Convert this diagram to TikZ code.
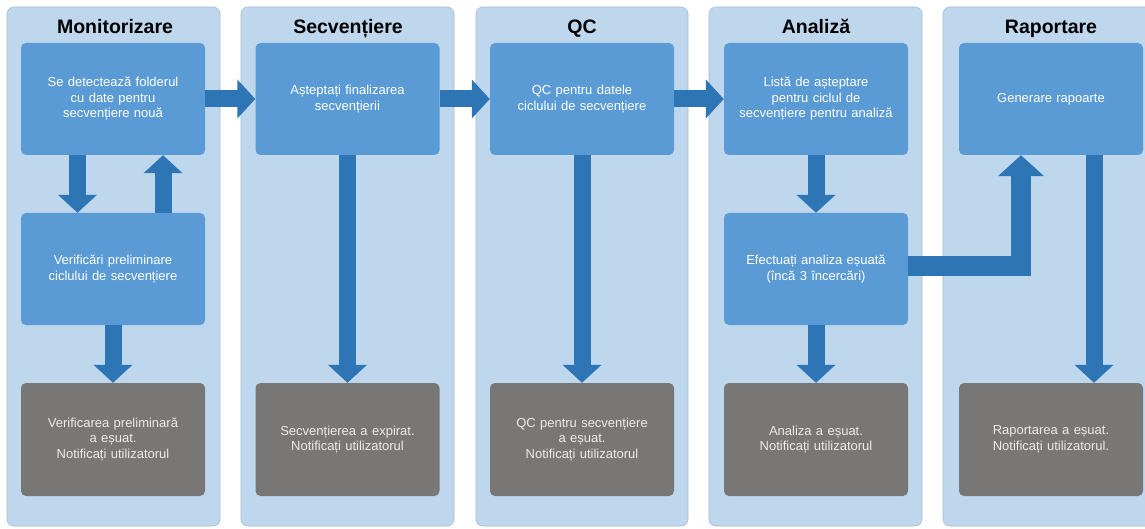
\documentclass[tikz,border=0pt]{standalone}
\usepackage{fontspec}
\setmainfont{Liberation Sans}
\usetikzlibrary{arrows.meta}
\definecolor{panelblue}{RGB}{190,215,237}
\definecolor{boxblue}{RGB}{91,155,213}
\definecolor{arrowblue}{RGB}{46,117,182}
\definecolor{failgrey}{RGB}{120,119,118}
\begin{document}
\begin{tikzpicture}[x=1pt, y=-1pt,
    panou/.style={fill=panelblue, draw=panelblue!88!black, line width=0.6pt, rounded corners=7pt},
    titlu/.style={anchor=base, font=\fontsize{19.5}{23}\selectfont\bfseries},
    pas/.style={fill=boxblue, rounded corners=5pt, minimum width=184pt, minimum height=112pt,
      text width=176pt, align=center, text=white, font=\fontsize{13}{15.5}\selectfont},
    esec/.style={pas, fill=failgrey, text=white!92!black, minimum height=113pt},
    sageata/.style={arrowblue, line width=17pt, -{Triangle[width=38pt, length=18pt]}},
    cot/.style={arrowblue, line width=20pt, line join=miter, -{Triangle[width=45pt, length=21pt]}}]
\clip (0,0) rectangle (1145,529);
\fill[white] (0,0) rectangle (1145,529);
% coloanele
\draw[panou] (7,7) rectangle (220,526);
\draw[panou] (241,7) rectangle (454,526);
\draw[panou] (476,7) rectangle (688,526);
\draw[panou] (709,7) rectangle (922,526);
\draw[panou] (943,7) rectangle (1170,526);
\node[titlu] (tmon) at (115,34) {Monitorizare};
\node[titlu] (tsec) at (348,34) {Secvențiere};
\node[titlu] (tqc) at (582,34) {QC};
\node[titlu] (tan) at (816,34) {Analiză};
\node[titlu] (trap) at (1051,34) {Raportare};
% pasi
\node[pas] (mon1) at (113,99) {Se detectează folderul\\cu date pentru\\secvențiere nouă};
\node[pas] (mon2) at (113,269) {Verificări preliminare\\ciclului de secvențiere};
\node[esec] (mon3) at (113,439.5) {Verificarea preliminară\\a eșuat.\\Notificați utilizatorul};
\node[pas] (sec1) at (347.5,99) {Așteptați finalizarea\\secvențierii};
\node[esec] (sec3) at (347.5,439.5) {Secvențierea a expirat.\\Notificați utilizatorul};
\node[pas] (qc1) at (582,99) {QC pentru datele\\ciclului de secvențiere};
\node[esec] (qc3) at (582,439.5) {QC pentru secvențiere\\a eșuat.\\Notificați utilizatorul};
\node[pas] (an1) at (816,99) {Listă de așteptare\\pentru ciclul de\\secvențiere pentru analiză};
\node[pas] (an2) at (816,269) {Efectuați analiza eșuată\\(încă 3 încercări)};
\node[esec] (an3) at (816,439.5) {Analiza a eșuat.\\Notificați utilizatorul};
\node[pas] (rap1) at (1051,99) {Generare rapoarte};
\node[esec] (rap3) at (1051,439.5) {Raportarea a eșuat.\\Notificați utilizatorul.};
% sageti
\draw[sageata] (mon1.east) -- (sec1.west);
\draw[sageata] (sec1.east) -- (qc1.west);
\draw[sageata] (qc1.east) -- (an1.west);
\draw[sageata] ([xshift=-35.5pt]mon1.south) -- ([xshift=-35.5pt]mon2.north);
\draw[sageata] ([xshift=50pt]mon2.north) -- ([xshift=50pt]mon1.south);
\draw[sageata] (mon2.south) -- (mon3.north);
\draw[sageata] (sec1.south) -- (sec3.north);
\draw[sageata] (qc1.south) -- (qc3.north);
\draw[sageata] (an1.south) -- (an2.north);
\draw[sageata] (an2.south) -- (an3.north);
\draw[cot] ([yshift=3pt]an2.east) -| ([xshift=-30pt]rap1.south);
\draw[sageata] ([xshift=43pt]rap1.south) -- ([xshift=43pt]rap3.north);
\end{tikzpicture}
\end{document}
